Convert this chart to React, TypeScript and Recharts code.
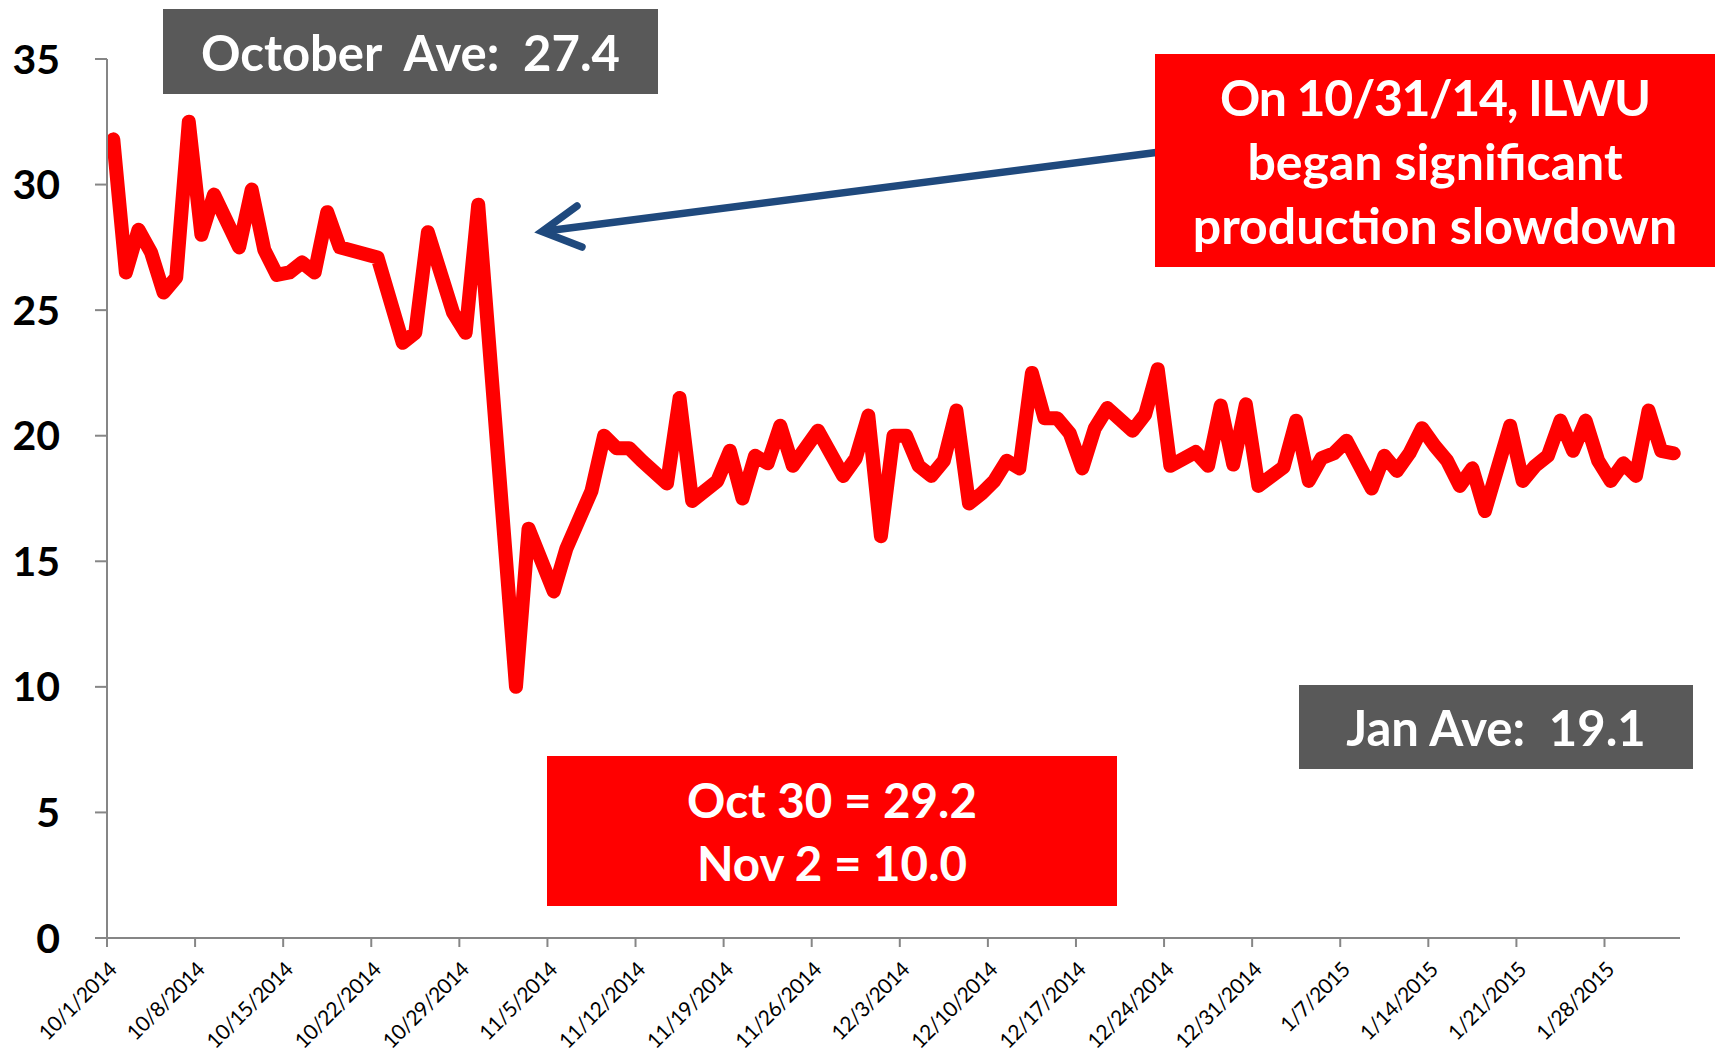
import React from 'react';
import { LineChart, Line, XAxis, YAxis } from 'recharts';

// daily observations (gaps are days with no reading)
const dates = [
  '10/1/2014', '10/2/2014', '10/3/2014', '10/4/2014', '10/5/2014', '10/6/2014', '10/7/2014', '10/8/2014',
  '10/9/2014', '10/11/2014', '10/12/2014', '10/13/2014', '10/14/2014', '10/15/2014', '10/16/2014',
  '10/17/2014', '10/18/2014', '10/19/2014', '10/22/2014', '10/24/2014', '10/25/2014', '10/26/2014',
  '10/28/2014', '10/29/2014', '10/30/2014',
  '11/2/2014', '11/3/2014', '11/5/2014', '11/6/2014', '11/8/2014', '11/9/2014', '11/10/2014',
  '11/11/2014', '11/12/2014', '11/14/2014', '11/15/2014', '11/16/2014', '11/18/2014', '11/19/2014',
  '11/20/2014', '11/21/2014', '11/22/2014', '11/23/2014', '11/24/2014', '11/26/2014', '11/28/2014',
  '11/29/2014', '11/30/2014',
  '12/1/2014', '12/2/2014', '12/3/2014', '12/4/2014', '12/5/2014', '12/6/2014', '12/7/2014', '12/8/2014',
  '12/9/2014', '12/10/2014', '12/11/2014', '12/12/2014', '12/13/2014', '12/14/2014', '12/15/2014',
  '12/16/2014', '12/17/2014', '12/18/2014', '12/19/2014', '12/21/2014', '12/22/2014', '12/23/2014',
  '12/24/2014', '12/26/2014', '12/27/2014', '12/28/2014', '12/29/2014', '12/30/2014', '12/31/2014',
  '1/2/2015', '1/3/2015', '1/4/2015', '1/5/2015', '1/6/2015', '1/7/2015', '1/9/2015', '1/10/2015',
  '1/11/2015', '1/12/2015', '1/13/2015', '1/14/2015', '1/15/2015', '1/16/2015', '1/17/2015', '1/18/2015',
  '1/20/2015', '1/21/2015', '1/22/2015', '1/23/2015', '1/24/2015', '1/25/2015', '1/26/2015', '1/27/2015',
  '1/28/2015', '1/29/2015', '1/30/2015', '1/31/2015', '2/1/2015', '2/2/2015',
];

const values = [
  31.8, 26.5, 28.2, 27.3, 25.7, 26.3, 32.5, 28.0,
  29.6, 27.5, 29.8, 27.4, 26.4, 26.5, 26.9,
  26.5, 28.9, 27.5, 27.1, 23.7, 24.1, 28.1,
  24.9, 24.1, 29.2,
  10.0, 16.3, 13.8, 15.5, 17.8, 20.0, 19.5,
  19.5, 19.0, 18.1, 21.5, 17.4, 18.2, 19.4,
  17.5, 19.2, 18.9, 20.4, 18.8, 20.2, 18.4,
  19.1, 20.8,
  16.0, 20.0, 20.0, 18.8, 18.4, 19.0, 21.0, 17.3,
  17.7, 18.2, 19.0, 18.7, 22.5, 20.7, 20.7,
  20.1, 18.7, 20.3, 21.1, 20.2, 20.85, 22.65,
  18.8, 19.35, 18.8, 21.2, 18.85, 21.25, 18.0,
  18.75, 20.6, 18.2, 19.1, 19.3, 19.8, 17.9, 19.2,
  18.6, 19.3, 20.3, 19.6, 19.0, 18.0, 18.7, 17.0,
  20.4, 18.2, 18.8, 19.2, 20.6, 19.4, 20.6, 19.0,
  18.2, 18.9, 18.4, 21.0, 19.4, 19.3,
];

const tickLabels = [
  '10/1/2014', '10/8/2014', '10/15/2014', '10/22/2014', '10/29/2014', '11/5/2014',
  '11/12/2014', '11/19/2014', '11/26/2014', '12/3/2014', '12/10/2014', '12/17/2014',
  '12/24/2014', '12/31/2014', '1/7/2015', '1/14/2015', '1/21/2015', '1/28/2015',
];

const yTicks = [0, 5, 10, 15, 20, 25, 30, 35];

const START = new Date(dates[0]).getTime();
const dayOf = (d: string) => Math.round((new Date(d).getTime() - START) / 86400000);

const data = dates.map((d, i) => ({ day: dayOf(d), value: values[i] }));
// date axis: each day sits in the middle of its slot, ticks on slot edges
const xTicks = tickLabels.map((l) => dayOf(l) - 0.5);

const FONT = 'Lato, "Noto Sans", sans-serif';

function DateTick(props: any) {
  const { x, y, index } = props;
  const ax = x + 11;
  const ay = y + 22;
  return (
    <text
      x={ax}
      y={ay}
      transform={`rotate(-45, ${ax}, ${ay})`}
      textAnchor="end"
      fontSize={21}
      letterSpacing={-0.5}
      fontFamily={FONT}
      fill="#000"
    >
      {tickLabels[index]}
    </text>
  );
}

interface BoxLine {
  text: string;
  spacing?: number;
}

interface BoxProps {
  left: number;
  top: number;
  width: number;
  height: number;
  bg: string;
  lines: BoxLine[];
  fontSize: number;
  lineHeight?: number;
}

function Box({ left, top, width, height, bg, lines, fontSize, lineHeight = 62 }: BoxProps) {
  return (
    <div
      style={{
        position: 'absolute',
        left,
        top,
        width,
        height,
        background: bg,
        color: '#fff',
        fontFamily: FONT,
        fontWeight: 700,
        fontSize,
        lineHeight: `${lineHeight}px`,
        display: 'flex',
        flexDirection: 'column',
        alignItems: 'center',
        justifyContent: 'center',
        whiteSpace: 'pre',
      }}
    >
      {lines.map((l) => (
        <div key={l.text} style={{ letterSpacing: l.spacing ?? 0 }}>
          {l.text}
        </div>
      ))}
    </div>
  );
}

export default function App() {
  return (
    <div style={{ position: 'absolute', left: 0, top: 0, width: 1715, height: 1052, background: '#fff', overflow: 'hidden' }}>
      <LineChart width={1715} height={1052} data={data} margin={{ top: 59, right: 35, bottom: 0, left: 0 }}>
        <XAxis
          dataKey="day"
          type="number"
          domain={[-0.5, 124.5]}
          ticks={xTicks}
          interval={0}
          height={114}
          axisLine={{ stroke: '#868686', strokeWidth: 2 }}
          tickLine={{ stroke: '#868686', strokeWidth: 2 }}
          tickSize={9}
          tick={<DateTick />}
        />
        <YAxis
          domain={[0, 35]}
          ticks={yTicks}
          interval={0}
          width={107}
          axisLine={{ stroke: '#868686', strokeWidth: 2 }}
          tickLine={{ stroke: '#868686', strokeWidth: 2 }}
          tickSize={12}
          tickMargin={35}
          tick={{ fill: '#000', fontSize: 41, fontWeight: 700, fontFamily: FONT }}
        />
        <Line
          type="linear"
          dataKey="value"
          stroke="#FF0000"
          strokeWidth={14}
          strokeLinejoin="round"
          strokeLinecap="round"
          dot={false}
          activeDot={false}
          isAnimationActive={false}
        />
      </LineChart>

      <svg width={1715} height={1052} style={{ position: 'absolute', left: 0, top: 0, pointerEvents: 'none' }}>
        <line x1={1160} y1={152} x2={546} y2={231} stroke="#1F497D" strokeWidth={7.5} />
        <polyline
          points="577,206 542,231.5 582,247"
          fill="none"
          stroke="#1F497D"
          strokeWidth={7.5}
          strokeLinecap="round"
          strokeLinejoin="miter"
        />
      </svg>

      <Box
        left={163}
        top={9}
        width={495}
        height={85}
        bg="#595959"
        fontSize={49}
        lines={[{ text: 'October  Ave:  27.4' }]}
      />
      <Box
        left={1155}
        top={54}
        width={560}
        height={213}
        bg="#FF0000"
        fontSize={50}
        lineHeight={64}
        lines={[
          { text: 'On 10/31/14, ILWU', spacing: -1.3 },
          { text: 'began significant' },
          { text: 'production slowdown' },
        ]}
      />
      <Box
        left={1299}
        top={685}
        width={394}
        height={84}
        bg="#595959"
        fontSize={49}
        lines={[{ text: 'Jan Ave:  19.1' }]}
      />
      <Box
        left={547}
        top={756}
        width={570}
        height={150}
        bg="#FF0000"
        fontSize={47.5}
        lineHeight={63}
        lines={[{ text: 'Oct 30 = 29.2' }, { text: 'Nov 2 = 10.0' }]}
      />
    </div>
  );
}
